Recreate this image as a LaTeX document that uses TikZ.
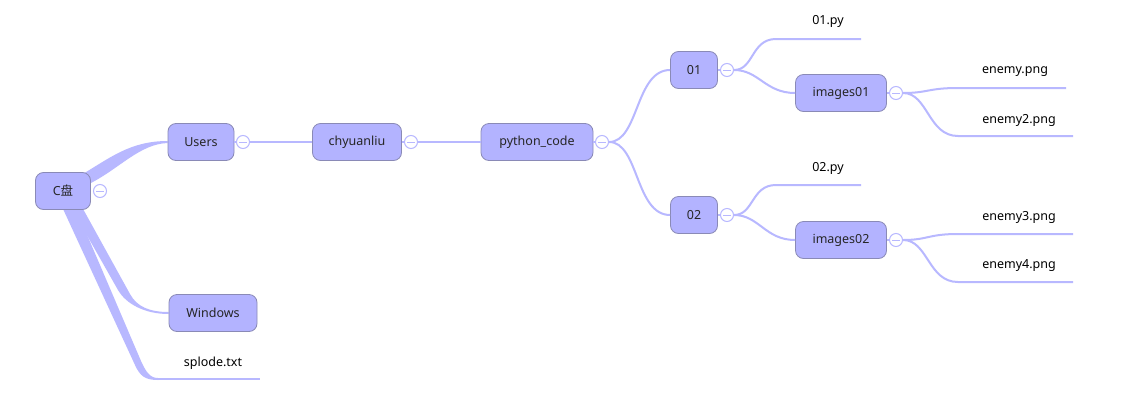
\documentclass[tikz,border=0pt]{standalone}
\usepackage{fontspec}
\setmainfont{Noto Sans}
\newfontfamily\cjk{Noto Sans CJK SC}
\usetikzlibrary{backgrounds}
\definecolor{nodefill}{HTML}{B3B3FF}
\definecolor{nodeline}{HTML}{8A8AB6}
\definecolor{edgecol}{HTML}{B8B8FF}
\tikzset{
  topic/.style={draw=nodeline, line width=0.8pt, fill=nodefill, rounded corners=8pt,
    minimum height=37pt, inner sep=0pt, font=\fontsize{12.5}{14}\selectfont, text=black!85},
  leaf/.style={inner sep=0pt, font=\fontsize{12.5}{14}\selectfont, text=black},
  collapse/.style={circle, draw=edgecol, line width=1pt, fill=white, minimum size=13pt, inner sep=0pt,
    path picture={\draw[edgecol, line width=1pt] ([xshift=-4pt]path picture bounding box.center) -- ([xshift=4pt]path picture bounding box.center);}},
  conn/.style={draw=edgecol, line width=2pt},
}
\begin{document}
\begin{tikzpicture}[x=1pt,y=-1pt]
\useasboundingbox (0,0) rectangle (1141,402);

% topic nodes
\node[topic, minimum width=55pt] (C) at (63,191) {C{\cjk 盘}};
\node[topic, minimum width=66pt] (U) at (201,142) {Users};
\node[topic, minimum width=89pt] (Y) at (357,142) {chyuanliu};
\node[topic, minimum width=112pt] (P) at (537,142) {python\_code};
\node[topic, minimum width=47pt] (A) at (694,70) {01};
\node[topic, minimum width=47pt] (B) at (694,215) {02};
\node[topic, minimum width=91pt] (I1) at (841,93) {images01};
\node[topic, minimum width=91pt] (I2) at (841,240) {images02};
\node[topic, minimum width=88pt] (W) at (213,313) {Windows};

% tapered root branches, under the nodes
\begin{scope}[on background layer]
\fill[white] (0,0) rectangle (1141,402);
\fill[edgecol] ([xshift=-10pt,yshift=-3pt]C.north east) .. controls (110,158) and (130,141) .. ([yshift=1pt]U.west)
  -- ([yshift=-1pt]U.west) .. controls (140,144) and (120,168) .. ([yshift=8pt]C.east) -- cycle;
\fill[edgecol] ([xshift=9pt,yshift=1pt]C.south) -- (118,290) .. controls (126,304) and (145,314) .. ([yshift=-1pt]W.west)
  -- ([yshift=1pt]W.west) .. controls (150,312) and (137,307) .. (130,294) -- ([xshift=20pt,yshift=1pt]C.south) -- cycle;
\fill[edgecol] ([yshift=1pt]C.south) -- (135,365) .. controls (140,376) and (145,380) .. (158,380)
  -- (158,378) .. controls (150,378) and (146,372) .. (141,361) -- ([xshift=13pt,yshift=1pt]C.south) -- cycle;
\end{scope}

% leaves
\node[leaf] (S) at (213,363) {splode.txt};
\coordinate (Ss) at (156,379);
\coordinate (Se) at (260,379);
\draw[conn] (Ss) -- (Se);

\node[leaf] (L1) at (828,21) {01.py};
\coordinate (L1s) at (776,39); \coordinate (L1e) at (861,39);
\node[leaf] (L2) at (828,168) {02.py};
\coordinate (L2s) at (776,185); \coordinate (L2e) at (861,185);
\node[leaf] (E1) at (1015,72) {enemy.png};
\coordinate (E1s) at (958,88); \coordinate (E1e) at (1066,88);
\node[leaf] (E2) at (1019,120) {enemy2.png};
\coordinate (E2s) at (958,136); \coordinate (E2e) at (1073,136);
\node[leaf] (E3) at (1019,217) {enemy3.png};
\coordinate (E3s) at (958,234); \coordinate (E3e) at (1073,234);
\node[leaf] (E4) at (1019,266) {enemy4.png};
\coordinate (E4s) at (958,282); \coordinate (E4e) at (1073,282);

% connectors
\draw[conn] (U.east) -- (243,142);
\draw[conn] (243,142) -- (Y.west);
\draw[conn] (Y.east) -- (411,142);
\draw[conn] (411,142) -- (P.west);
\draw[conn] (P.east) -- (602,142);
\draw[conn] (A.east) -- (727,70);
\draw[conn] (B.east) -- (727,215);
\draw[conn] (I1.east) -- (896,93);
\draw[conn] (I2.east) -- (896,240);

% collapse circles
\node[collapse] (cC) at (100,191) {};
\node[collapse] (cU) at (243,142) {};
\node[collapse] (cY) at (411,142) {};
\node[collapse] (cP) at (602,142) {};
\node[collapse] (cA) at (727,70) {};
\node[collapse] (cB) at (727,215) {};
\node[collapse] (cI1) at (896,93) {};
\node[collapse] (cI2) at (896,240) {};

\draw[conn] (cP.east) .. controls +(30,0) and +(-35,0) .. (A.west);
\draw[conn] (cP.east) .. controls +(30,0) and +(-35,0) .. (B.west);

\draw[conn] (cA.east) .. controls +(20,0) and +(-25,0) .. (L1s) -- (L1e);
\draw[conn] (cA.east) .. controls +(25,0) and +(-30,0) .. (I1.west);
\draw[conn] (cB.east) .. controls +(20,0) and +(-25,0) .. (L2s) -- (L2e);
\draw[conn] (cB.east) .. controls +(25,0) and +(-30,0) .. (I2.west);

\draw[conn] (cI1.east) .. controls +(25,0) and +(-30,0) .. (E1s) -- (E1e);
\draw[conn] (cI1.east) .. controls +(25,0) and +(-30,0) .. (E2s) -- (E2e);
\draw[conn] (cI2.east) .. controls +(25,0) and +(-30,0) .. (E3s) -- (E3e);
\draw[conn] (cI2.east) .. controls +(25,0) and +(-30,0) .. (E4s) -- (E4e);
\end{tikzpicture}
\end{document}
